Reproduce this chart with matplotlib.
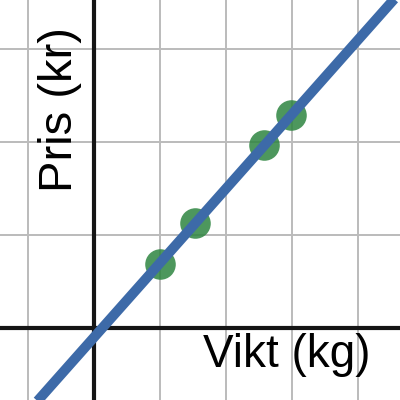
import matplotlib
matplotlib.use('Agg')
import matplotlib.pyplot as plt

# measured points (weight, price) in grid units
vikt = [0.99, 1.53, 2.58, 2.98]
pris = [0.69, 1.125, 1.97, 2.29]

# fitted line, endpoints
line_x = [-1.5, 5.0]
line_y = [-1.3, 3.9]

x_grid = [-1, 0, 1, 2, 3, 4]
y_grid = [0, 1, 2, 3]

fig = plt.figure(figsize=(4, 4), dpi=100)
ax = fig.add_axes([0, 0, 1, 1])
ax.set_xlim(-1.431, 4.639)
ax.set_ylim(-0.779, 3.531)

for gx in x_grid:
    ax.axvline(gx, color='#bbbbbb', lw=1.4, zorder=1)
for gy in y_grid:
    ax.axhline(gy, color='#bbbbbb', lw=1.4, zorder=1)
ax.axvline(0, color='#151515', lw=3, zorder=2)
ax.axhline(0, color='#151515', lw=3, zorder=2)

ax.plot(vikt, pris, 'o', color='#2e8540', alpha=0.85, ms=22, mew=0, zorder=3)
ax.plot(line_x, line_y, color='#3d6aa8', lw=7.2, solid_capstyle='butt', zorder=4)

font = ['Liberation Sans', 'DejaVu Sans']
ax.text(-0.52, 2.35, 'Pris (kr)', rotation=90, ha='center', va='center',
        fontsize=34, family=font, color='black', zorder=5)
ax.text(1.65, -0.424, 'Vikt (kg)', ha='left', va='baseline',
        fontsize=33, family=font, color='black', zorder=5)

for s in ax.spines.values():
    s.set_visible(False)
ax.set_xticks([])
ax.set_yticks([])

fig.savefig('out.png', dpi=100)
